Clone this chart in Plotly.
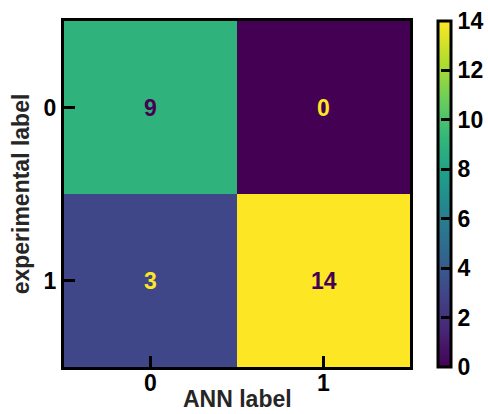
import plotly.graph_objects as go
import plotly.colors as pc

# Confusion matrix: rows = experimental label, columns = ANN label
classes = [0, 1]
counts = [[9, 0],
          [3, 14]]
cbar_ticks = [0, 2, 4, 6, 8, 10, 12, 14]

zmin, zmax = 0, 14
viridis = pc.sequential.Viridis
dark_text = viridis[0]
light_text = viridis[-1]

FONT = "Liberation Sans, Arial, sans-serif"
FS = 23
TITLE_COLOR = "#262626"

fig = go.Figure()
fig.add_trace(go.Heatmap(
    z=counts, x=classes, y=classes,
    colorscale="Viridis", zmin=zmin, zmax=zmax,
    showscale=True,
    colorbar=dict(
        x=1.081, xanchor="left", xpad=0,
        y=0.5, yanchor="middle", ypad=0,
        len=1, lenmode="fraction",
        thickness=13,
        outlinewidth=3, outlinecolor="black",
        tickmode="array", tickvals=cbar_ticks,
        ticks="inside", ticklen=11, tickwidth=3, tickcolor="black",
        tickfont=dict(family=FONT, size=FS, color="black", weight="bold"),
    ),
    hoverinfo="skip",
))

# Cell counts, coloured for contrast against the cell
mid = (zmin + zmax) / 2
for i, row in enumerate(counts):
    for j, v in enumerate(row):
        fig.add_annotation(
            x=classes[j], y=classes[i], text=str(v), showarrow=False,
            font=dict(family=FONT, size=FS, weight="bold",
                      color=dark_text if v > mid else light_text),
        )

# x-axis title placed just below the tick labels
fig.add_annotation(
    xref="paper", yref="paper", x=0.5, y=0, yanchor="bottom",
    yshift=-47, text="ANN label", showarrow=False,
    font=dict(family=FONT, size=FS, color=TITLE_COLOR, weight="bold"),
)

axis_common = dict(
    showline=True, linewidth=3, linecolor="black", mirror=True,
    ticks="inside", ticklen=11, tickwidth=3, tickcolor="black",
    tickmode="array", tickvals=classes, ticktext=[str(c) for c in classes],
    tickfont=dict(family=FONT, size=FS, color="black", weight="bold"),
    showgrid=False, zeroline=False, automargin=False,
)

fig.update_xaxes(
    **axis_common,
    range=[-0.5, 1.5],
    ticklabelstandoff=-7,
)
fig.update_yaxes(
    **axis_common,
    range=[1.5, -0.5],
    title=dict(text="experimental label", standoff=8,
               font=dict(family=FONT, size=FS, color=TITLE_COLOR, weight="bold")),
)

fig.update_layout(
    width=488, height=414,
    margin=dict(l=64, r=78, t=21, b=47, autoexpand=False),
    paper_bgcolor="white", plot_bgcolor="white",
    font=dict(family=FONT, weight="bold"),
    showlegend=False,
)

fig.write_html("out.html")
